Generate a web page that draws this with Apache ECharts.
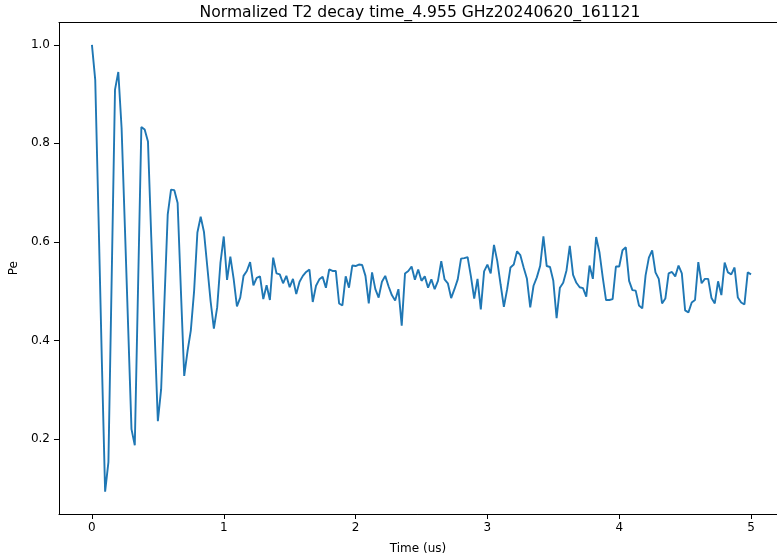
<!DOCTYPE html>
<html>
<head>
<meta charset="utf-8">
<script src="https://cdn.jsdelivr.net/npm/echarts@6/dist/echarts.min.js"></script>
<style>
html,body{margin:0;padding:0;background:#fff;}
#chart{width:777px;height:560px;}
</style>
</head>
<body>
<div id="chart"></div>
<script>
const titleText = "Normalized T2 decay time_4.955 GHz20240620_161121";
const xLabel = "Time (us)";
const yLabel = "Pe";
const tStart = 0;
const tStep = 0.025;
const xMin = -0.25;
const xMaxVisible = 5.197;
const xTicks = [0, 1, 2, 3, 4, 5];
const yTicks = [0.2, 0.4, 0.6, 0.8, 1.0];
const pe = [
1.000,0.929,0.650,0.360,0.093,0.153,0.530,0.909,0.945,0.831,
0.630,0.425,0.220,0.187,0.510,0.833,0.828,0.804,0.610,0.420,
0.236,0.301,0.480,0.656,0.706,0.705,0.679,0.500,0.328,0.378,
0.420,0.500,0.619,0.651,0.620,0.550,0.480,0.424,0.467,0.558,
0.611,0.523,0.570,0.525,0.469,0.487,0.531,0.541,0.559,0.512,
0.527,0.530,0.484,0.512,0.482,0.568,0.536,0.534,0.516,0.531,
0.508,0.525,0.494,0.519,0.531,0.539,0.544,0.478,0.511,0.524,
0.529,0.507,0.544,0.541,0.541,0.475,0.471,0.530,0.507,0.552,
0.551,0.554,0.553,0.531,0.475,0.538,0.504,0.487,0.519,0.531,
0.510,0.492,0.481,0.504,0.430,0.536,0.541,0.550,0.523,0.544,
0.521,0.530,0.507,0.524,0.504,0.521,0.561,0.524,0.516,0.486,
0.504,0.524,0.566,0.567,0.569,0.530,0.485,0.525,0.463,0.540,
0.554,0.536,0.594,0.561,0.514,0.468,0.504,0.548,0.554,0.581,
0.573,0.548,0.525,0.467,0.511,0.528,0.551,0.611,0.551,0.549,
0.521,0.445,0.507,0.517,0.542,0.592,0.533,0.517,0.508,0.506,
0.489,0.552,0.525,0.610,0.579,0.528,0.482,0.482,0.484,0.550,
0.550,0.583,0.589,0.521,0.502,0.501,0.471,0.465,0.532,0.568,
0.583,0.538,0.525,0.475,0.485,0.536,0.539,0.530,0.552,0.536,
0.461,0.457,0.477,0.482,0.559,0.516,0.525,0.525,0.486,0.475,
0.520,0.492,0.558,0.538,0.534,0.548,0.487,0.477,0.473,0.538,
0.534
];

const seriesData = pe.map((v, i) => [tStart + i * tStep, v]);
const dataMin = Math.min(...pe), dataMax = Math.max(...pe);
const pad = 0.05 * (dataMax - dataMin);
const font = "DejaVu Sans";

const chart = echarts.init(document.getElementById('chart'), null, {renderer: 'canvas'});
chart.setOption({
  animation: false,
  backgroundColor: '#fff',
  title: {
    text: titleText,
    left: 415,
    textAlign: 'center',
    top: 0,
    textStyle: {fontFamily: font, fontSize: 15.6, fontWeight: 'normal', color: '#000'}
  },
  grid: {left: 58.5, top: 22.5, right: 0, bottom: 45, containLabel: false},
  xAxis: [{
    type: 'value',
    min: xMin,
    max: xMaxVisible,
    name: xLabel,
    nameLocation: 'middle',
    nameGap: 29,
    nameTextStyle: {fontFamily: font, fontSize: 12, color: '#000'},
    axisLine: {show: true, onZero: false, lineStyle: {color: '#000', width: 1}},
    axisTick: {show: true, length: 5, lineStyle: {color: '#000'}, customValues: xTicks},
    axisLabel: {fontFamily: font, fontSize: 12, color: '#000', margin: 8, customValues: xTicks,
      formatter: v => String(Math.round(v))},
    splitLine: {show: false}
  }, {
    type: 'value',
    position: 'top',
    min: xMin,
    max: xMaxVisible,
    axisLine: {show: true, onZero: false, lineStyle: {color: '#000', width: 1}},
    axisTick: {show: false},
    axisLabel: {show: false},
    splitLine: {show: false}
  }],
  yAxis: {
    type: 'value',
    min: dataMin - pad,
    max: dataMax + pad,
    name: yLabel,
    nameLocation: 'middle',
    nameGap: 37,
    nameTextStyle: {fontFamily: font, fontSize: 12, color: '#000'},
    axisLine: {show: true, onZero: false, lineStyle: {color: '#000', width: 1}},
    axisTick: {show: true, length: 5, lineStyle: {color: '#000'}, customValues: yTicks},
    axisLabel: {fontFamily: font, fontSize: 12, color: '#000', margin: 9, customValues: yTicks,
      formatter: v => v.toFixed(1)},
    splitLine: {show: false}
  },
  series: [{
    type: 'line',
    xAxisIndex: 0,
    data: seriesData,
    showSymbol: false,
    symbol: 'none',
    lineStyle: {color: '#1f77b4', width: 1.9},
    itemStyle: {color: '#1f77b4'}
  }]
});
</script>
</body>
</html>
